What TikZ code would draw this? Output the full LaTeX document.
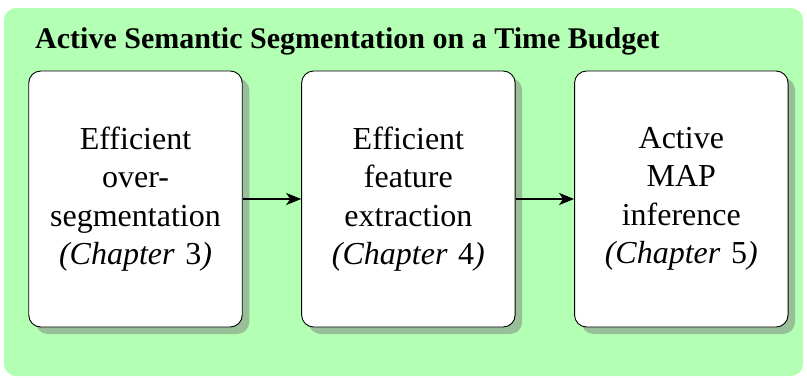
\documentclass[tikz,border=0pt]{standalone}
\usepackage{fontspec}
\setmainfont{Liberation Serif}
\usetikzlibrary{arrows.meta,positioning,shadows,backgrounds}
\definecolor{panelgreen}{RGB}{179,255,179}

\begin{document}
\begin{tikzpicture}[x=1pt,y=-1pt,
      node distance=58.5pt,
      stage/.style={draw=black,line width=0.9pt,rounded corners=12pt,fill=white,
                    drop shadow={shadow xshift=7pt,shadow yshift=-7pt},
                    minimum width=213.5pt,minimum height=256pt,
                    text width=205pt,align=center,inner sep=0pt,
                    font=\fontsize{32}{38.5}\selectfont},
      heading/.style={font=\fontsize{30}{36}\selectfont\bfseries,inner sep=0pt},
      flow/.style={-{Stealth[length=15pt,width=12pt,inset=4pt]},line width=2.2pt}
    ]
    \useasboundingbox (0,0) rectangle (807,378);

    \node[heading,anchor=base west] (title) at (35,48)
      {Active Semantic Segmentation on a Time Budget};

    \node[stage] (overseg) at (135.5,199)
      {Efficient\\over-\\segmentation\\\textit{(Chapter }3\textit{)}};
    \node[stage,right=of overseg] (features)
      {Efficient\\feature\\extraction\\\textit{(Chapter }4\textit{)}};
    \node[stage,right=of features] (inference)
      {Active\\MAP\\inference\\\textit{(Chapter }5\textit{)}};

    \draw[flow] (overseg) -- (features);
    \draw[flow] (features) -- (inference);

    \begin{scope}[on background layer]
      \fill[panelgreen,rounded corners=12pt] (4,8) rectangle (803,376);
    \end{scope}
  \end{tikzpicture}
\end{document}
